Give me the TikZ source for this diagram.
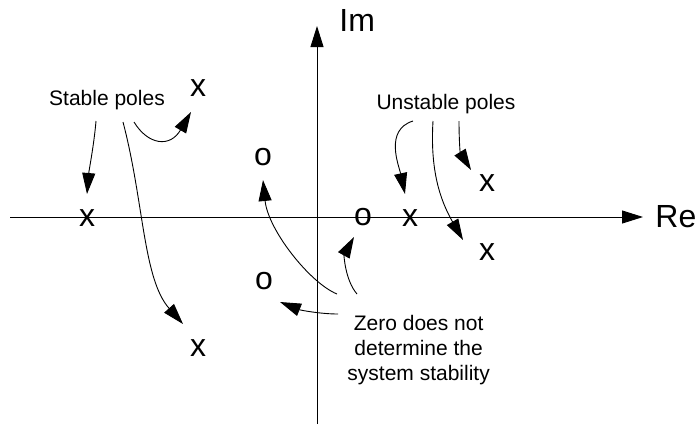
\documentclass[tikz,border=0pt]{standalone}
\usepackage{fontspec}
\setmainfont{Liberation Sans}
\usetikzlibrary{arrows.meta,positioning}

\begin{document}
\begin{tikzpicture}[x=1pt, y=-1pt, line width=0.9pt,
  pole/.style={inner sep=0pt, font=\fontsize{32}{38}\selectfont},
  axlabel/.style={inner sep=0pt, font=\fontsize{32}{38}\selectfont},
  note/.style={inner sep=0pt, font=\fontsize{21}{25}\selectfont, align=center},
  tip/.style={-{Triangle[length=21pt,width=13pt]}}]
\useasboundingbox (0,0) rectangle (700,426);
% axes
\coordinate (xl) at (10,217); \coordinate (xr) at (643,217);
\coordinate (yb) at (317,424); \coordinate (yt) at (317,26);
\draw[tip] (xl) -- (xr); \draw[tip] (yb) -- (yt);
\node[axlabel, right=12pt of xr] (re) {Re};
\node[axlabel, right=22pt of yt, yshift=5.5pt] (im) {Im};
% poles and zeros
\node[pole] (s1) at (87,218) {x}; \node[pole] (s2) at (198,88) {x}; \node[pole] (s3) at (198,348) {x};
\node[pole] (u1) at (410,218) {x}; \node[pole] (u2) at (487,183) {x}; \node[pole] (u3) at (487,252) {x};
\node[pole] (z1) at (263,157) {o}; \node[pole] (z2) at (363,217) {o}; \node[pole] (z3) at (264,281) {o};
% notes
\node[note, anchor=base] (stable) at (107,105) {Stable poles};
\node[note, anchor=base] (unstable) at (446,109) {Unstable poles};
\node[note, anchor=north west] (zero) at (347,315) {Zero does not\\determine the\\system stability};
% pointers
\draw[tip] ([shift={(-11,16)}]stable.base) .. controls (94,145) and (89,170) .. ([shift={(0,-24)}]s1.center);
\draw[tip] ([shift={(27,17)}]stable.base) .. controls (148,145) and (170,148) .. ([shift={(-7,24)}]s2.center);
\draw[tip] ([shift={(16,17)}]stable.base) .. controls (144,202) and (143,279) .. ([shift={(-15,-24)}]s3.center);
\draw[tip] ([shift={(-33,12)}]unstable.base) .. controls (384,130) and (399,166) .. ([shift={(-5,-24)}]u1.center);
\draw[tip] ([shift={(-13,12)}]unstable.base) .. controls (430,170) and (440,200) .. ([shift={(-24,-12)}]u3.center);
\draw[tip] ([shift={(13,12)}]unstable.base) .. controls (459,138) and (460,152) .. ([shift={(-16,-13)}]u2.center);
\draw[tip] ([shift={(-10,-21)}]zero.north west) .. controls (310,283) and (268,230) .. ([shift={(0,23)}]z1.center);
\draw[tip] ([shift={(10,-21)}]zero.north west) .. controls (345,280) and (344,255) .. ([shift={(-9,20)}]z2.center);
\draw[tip] ([shift={(-9,-1)}]zero.north west) .. controls (320,314) and (300,310) .. ([shift={(16,21)}]z3.center);
\end{tikzpicture}
\end{document}
